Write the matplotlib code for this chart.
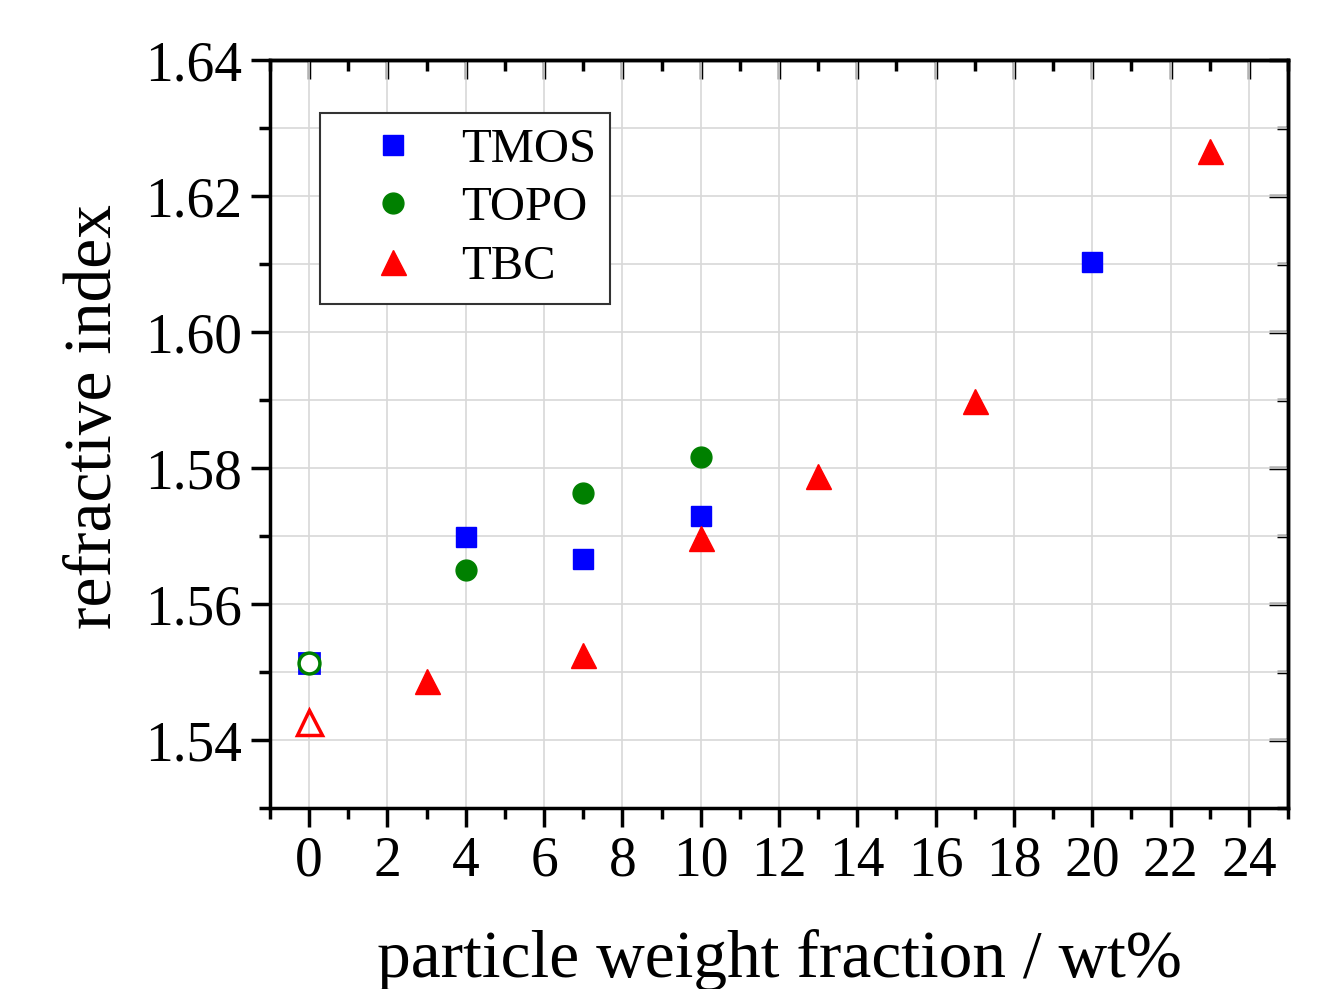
import matplotlib
matplotlib.use("Agg")
import matplotlib.pyplot as plt
from matplotlib.ticker import MultipleLocator

plt.rcParams['font.family'] = ['Liberation Serif', 'DejaVu Serif']

tmos_x = [4, 7, 10, 20]
tmos_y = [1.5698, 1.5666, 1.5729, 1.6103]
topo_x = [4, 7, 10]
topo_y = [1.5650, 1.5764, 1.5816]
tbc_x = [3, 7, 10, 13, 17, 23]
tbc_y = [1.5487, 1.5525, 1.5697, 1.5788, 1.5898, 1.6266]
ref_x = [0]
ref_tmos_y = [1.5513]
ref_topo_y = [1.5513]
ref_tbc_y = [1.5426]

fig = plt.figure(figsize=(13.36, 9.89), dpi=100)
ax = fig.add_axes([0.2021, 0.183, 0.762, 0.7563])

ax.plot(tmos_x, tmos_y, 's', color='blue', ms=14, mec='blue', label='TMOS', zorder=3)
ax.plot(topo_x, topo_y, 'o', color='green', ms=15, mec='green', label='TOPO', zorder=3)
ax.plot(tbc_x, tbc_y, '^', color='red', ms=18, mec='red', label='TBC', zorder=3)
ax.plot(ref_x, ref_tmos_y, 's', mfc='none', mec='blue', ms=14, mew=2, zorder=3)
ax.plot(ref_x, ref_topo_y, 'o', mfc='white', mec='green', ms=15, mew=2.5, zorder=4)
ax.plot(ref_x, ref_tbc_y, '^', mfc='none', mec='red', ms=18, mew=2.5, zorder=3)

ax.set_xlim(-1, 25)
ax.set_ylim(1.53, 1.64)
ax.xaxis.set_major_locator(MultipleLocator(2))
ax.xaxis.set_minor_locator(MultipleLocator(1))
ax.yaxis.set_major_locator(MultipleLocator(0.02))
ax.yaxis.set_minor_locator(MultipleLocator(0.01))

ax.grid(True, which='major', axis='x', color='#d8d8d8', lw=1.2)
ax.grid(True, which='both', axis='y', color='#d8d8d8', lw=1.2)
ax.set_axisbelow(True)

for s in ax.spines.values():
    s.set_linewidth(2.5)

ax.tick_params(which='major', direction='out', length=14, width=2.5, labelsize=40, pad=6)
ax.tick_params(which='minor', direction='out', length=8, width=2.5)
ax.tick_params(which='both', top=False, right=False)

sec_x = ax.secondary_xaxis('top')
sec_x.xaxis.set_major_locator(MultipleLocator(2))
sec_x.xaxis.set_minor_locator(MultipleLocator(1))
sec_x.tick_params(which='major', direction='in', length=14, width=2.5, labeltop=False)
sec_x.tick_params(which='minor', direction='in', length=8, width=2.5)
sec_x.spines['top'].set_linewidth(2.5)
sec_y = ax.secondary_yaxis('right')
sec_y.yaxis.set_major_locator(MultipleLocator(0.02))
sec_y.yaxis.set_minor_locator(MultipleLocator(0.01))
sec_y.tick_params(which='major', direction='in', length=14, width=2.5, labelright=False)
sec_y.tick_params(which='minor', direction='in', length=8, width=2.5)
sec_y.spines['right'].set_linewidth(2.5)

ax.yaxis.set_major_formatter(matplotlib.ticker.FormatStrFormatter('%.2f'))

ax.set_xlabel('particle weight fraction / wt%', fontsize=48.5, labelpad=30)
ax.set_ylabel('refractive index', fontsize=48.5)
ax.yaxis.set_label_coords(-0.142, 0.524)

leg = ax.legend(loc='upper left', bbox_to_anchor=(0.049, 0.929), fontsize=35,
                frameon=True, fancybox=False, edgecolor='#333333', framealpha=1,
                handletextpad=0.2, borderpad=0.3, labelspacing=0.3, handlelength=2.4,
                borderaxespad=0)
leg.get_frame().set_linewidth(1.5)

fig.savefig('out.png', dpi=100)
